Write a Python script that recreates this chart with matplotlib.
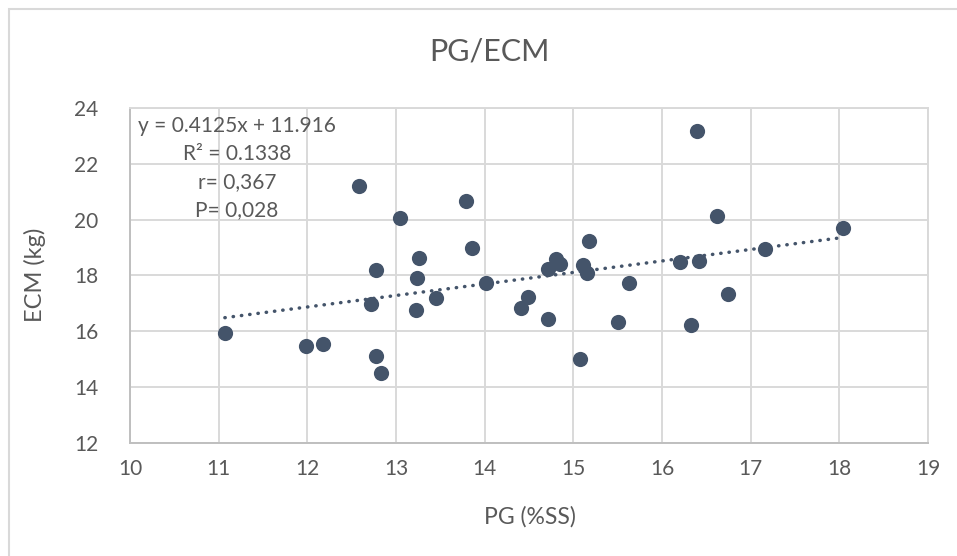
import numpy as np
import matplotlib
matplotlib.use('Agg')
import matplotlib.pyplot as plt
from matplotlib.patches import Rectangle

plt.rcParams['font.family'] = ['Lato', 'DejaVu Sans']

# data
pg = [16.40, 16.62, 18.04, 17.16, 16.20, 16.42, 16.74, 16.33, 15.63, 15.50,
      15.08, 15.18, 15.11, 15.15, 14.81, 14.85, 14.71, 14.71, 14.49, 14.41,
      14.01, 12.58, 13.05, 13.79, 13.86, 13.26, 12.78, 13.24, 13.45, 12.72,
      13.23, 11.07, 11.98, 12.18, 12.77, 12.83]
ecm = [23.18, 20.11, 19.68, 18.93, 18.47, 18.50, 17.34, 16.21, 17.72, 16.34,
       15.01, 19.23, 18.36, 18.08, 18.60, 18.39, 18.22, 16.45, 17.22, 16.84,
       17.74, 21.19, 20.07, 20.66, 18.98, 18.61, 18.20, 17.89, 17.18, 16.96,
       16.74, 15.93, 15.46, 15.53, 15.10, 14.50]

# trendline from the Excel label
slope = 0.4125
intercept = 11.916
stats_lines = ['y = 0.4125x + 11.916', 'R² = 0.1338', 'r= 0,367', 'P= 0,028']

x_ticks = list(range(10, 20))
y_ticks = list(range(12, 25, 2))

point_color = '#44546A'
text_color = '#595959'
grid_color = '#d9d9d9'

fig = plt.figure(figsize=(9.57, 5.56), dpi=100)
ax = fig.add_axes([130 / 957, 1 - 442.7 / 556, (928 - 130) / 957, (442.7 - 108) / 556])

# outer chart border (only left/top visible in the crop)
fig.patches.append(Rectangle((9 / 957, -0.1), 1.2, 1 - 8.5 / 556 + 0.1,
                             transform=fig.transFigure, fill=False,
                             edgecolor=grid_color, linewidth=1.5))

ax.scatter(pg, ecm, s=120, color=point_color, zorder=3, linewidths=0)

xl = np.array([min(pg), max(pg)])
ax.plot(xl, slope * xl + intercept, color=point_color, linewidth=2.5,
        linestyle=(0, (0.1, 2.3)), dash_capstyle='round', zorder=2)

ax.set_xlim(10, 19)
ax.set_ylim(12, 24)
ax.set_xticks(x_ticks)
ax.set_yticks(y_ticks)
ax.grid(True, color=grid_color, linewidth=1.4)
ax.set_axisbelow(True)
ax.tick_params(length=0, labelsize=15, labelcolor=text_color)
ax.tick_params(axis='x', pad=12)
ax.tick_params(axis='y', pad=23)

for side in ['top', 'right']:
    ax.spines[side].set_color(grid_color)
    ax.spines[side].set_linewidth(1.4)
for side in ['left', 'bottom']:
    ax.spines[side].set_color('#bfbfbf')
    ax.spines[side].set_linewidth(1.4)

ax.text(0.134, 0.975, '\n'.join(stats_lines), transform=ax.transAxes,
        ha='center', va='top', multialignment='center', fontsize=15,
        color=text_color, linespacing=1.5)

fig.text(489 / 957, 1 - 52 / 556, 'PG/ECM', ha='center', va='center',
         fontsize=22, color=text_color)
fig.text(530 / 957, 1 - 517 / 556, 'PG (%SS)', ha='center', va='center',
         fontsize=16.5, color=text_color)
fig.text(35 / 957, 1 - 275 / 556, 'ECM (kg)', ha='center', va='center',
         rotation=90, fontsize=17, color=text_color)

fig.savefig('out.png', dpi=100)
